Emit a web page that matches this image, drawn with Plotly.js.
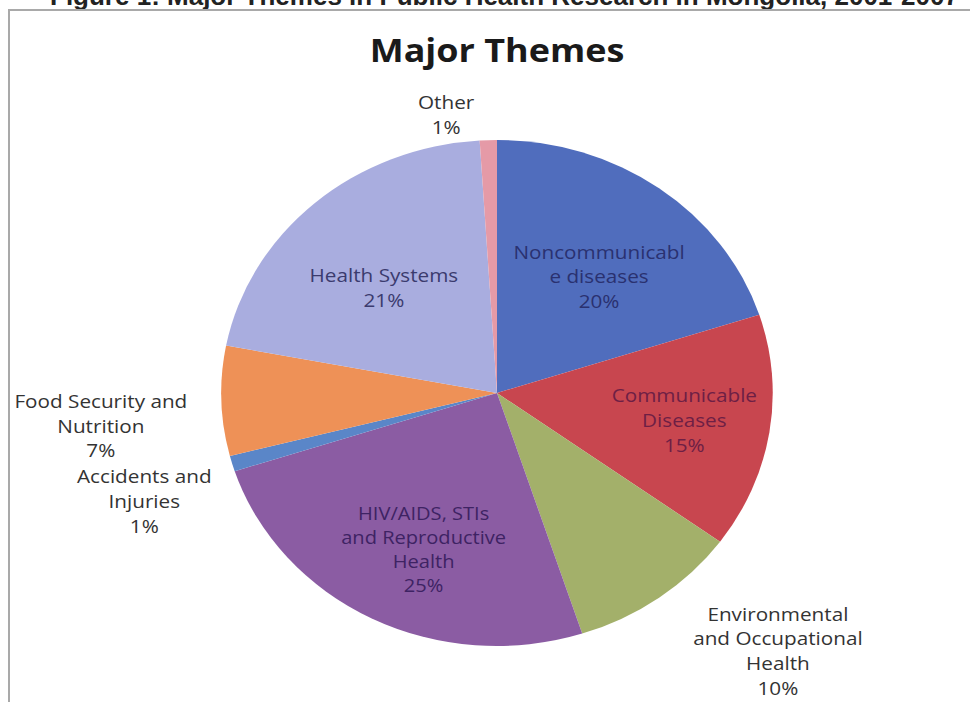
<!DOCTYPE html>
<html>
<head>
<meta charset="utf-8">
<script src="https://cdn.plot.ly/plotly-3.0.1.min.js"></script>
<style>
  html, body { margin:0; padding:0; background:#fff; overflow:hidden; }
  #wrap { position:relative; width:970px; height:702px; overflow:hidden; background:#fff; }
  #frame { position:absolute; left:8px; top:9px; width:980px; height:720px;
           border-left:2px solid #a9a9a9; border-top:2px solid #a9a9a9; }
  #caption { position:absolute; left:50px; top:-19px; white-space:nowrap;
             font-family:"Liberation Sans", Arial, sans-serif; font-weight:bold; font-size:26px; color:#222; }
  #chart { position:absolute; left:0; top:0; width:890px; height:702px;
           transform:scaleX(1.09); transform-origin:0 0; }
  #chart path.textline { display:none !important; }
</style>
</head>
<body>
<div id="wrap">
  <div id="caption">Figure 1: Major Themes in Public Health Research in Mongolia, 2001-2007</div>
  <div id="frame"></div>
  <div id="chart"></div>
</div>
<script>
const categories = ["Noncommunicable diseases", "Communicable Diseases", "Environmental and Occupational Health",
  "HIV/AIDS, STIs and Reproductive Health", "Accidents and Injuries", "Food Security and Nutrition",
  "Health Systems", "Other"];
const labelText = [" <br>Noncommunicabl<br>e diseases", "Communicable<br>Diseases", " <br>Environmental<br>and Occupational<br>Health",
  " <br> <br>HIV/AIDS, STIs<br>and Reproductive<br>Health", "Accidents and<br>Injuries", " <br> <br>Food Security and<br>Nutrition",
  " <br>Health Systems", "Other"];
const percents = [20, 15, 10, 25, 1, 7, 21, 1];
const sliceColors = ["#506dbd", "#c8464f", "#a3b06a", "#8b5ca3", "#5a86c8", "#ee9157", "#a9addf", "#e59aa7"];
const textColors = ["#2a3170", "#6e1f45", "#333333", "#3e2363", "#333333", "#333333", "#3b3b6e", "#333333"];
const textPositions = ["inside", "inside", "outside", "inside", "outside", "outside", "inside", "outside"];

const trace = {
  type: "pie",
  labels: categories,
  values: percents,
  text: labelText,
  texttemplate: "%{text}<br>%{value}%",
  textposition: textPositions,
  insidetextorientation: "horizontal",
  sort: false,
  direction: "clockwise",
  rotation: 0,
  marker: { colors: sliceColors, line: { width: 0 } },
  textfont: { family: "Open Sans, sans-serif", size: 19, color: textColors },
  hoverinfo: "label+percent",
  showlegend: false,
  domain: { x: [0.228, 0.7966], y: [0.0798, 0.8006] }
};

const layout = {
  width: 890, height: 702,
  margin: { l: 0, r: 0, t: 0, b: 0 },
  paper_bgcolor: "rgba(0,0,0,0)",
  plot_bgcolor: "rgba(0,0,0,0)",
  title: { text: "<b>Major Themes</b>", x: 0.5124, xanchor: "center", y: 0.928, yanchor: "middle",
           font: { family: "Open Sans, sans-serif", size: 33, color: "#1a1a1a" } },
  showlegend: false
};

Plotly.newPlot("chart", [trace], layout, { displayModeBar: false, staticPlot: true });
</script>
</body>
</html>
